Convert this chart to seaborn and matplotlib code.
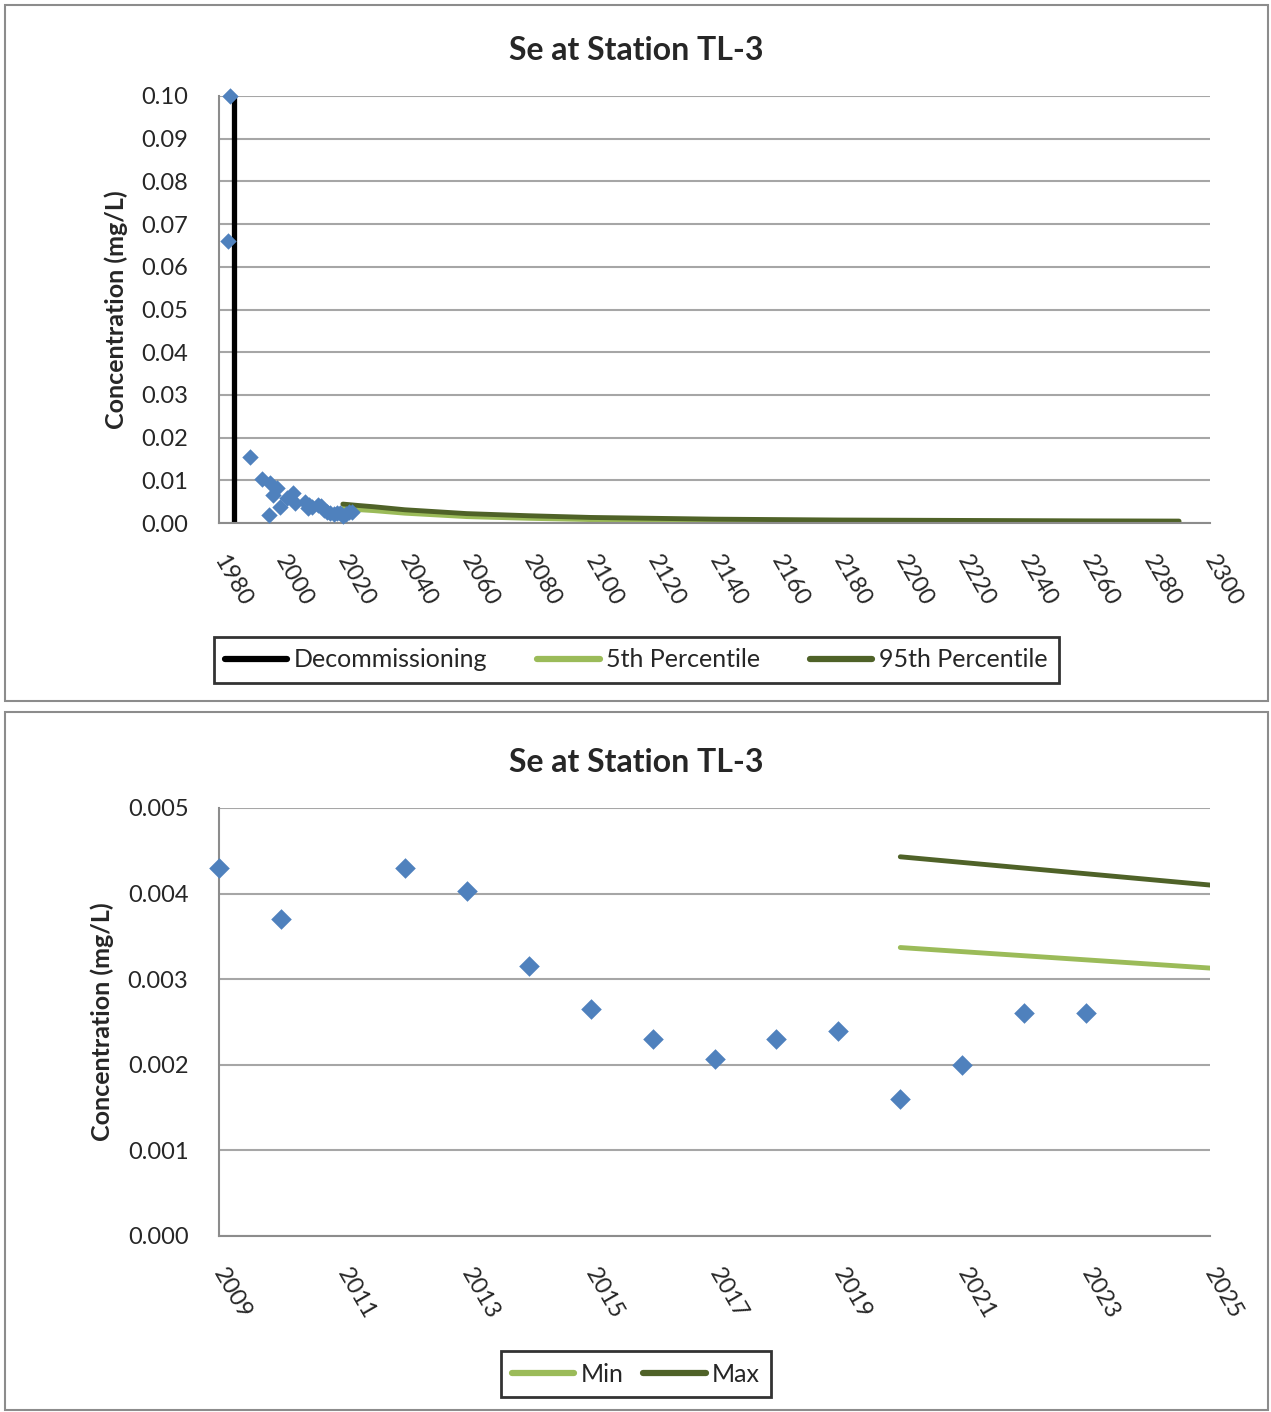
import numpy as np
import pandas as pd
import matplotlib
matplotlib.use("Agg")
import matplotlib.pyplot as plt
import matplotlib.patches as mpatches
import seaborn as sns

# =========================
# Daten
# =========================
hist_year = [1983.5, 1983.0, 1990.0, 1994.0, 1996.0, 1996.5, 1997.5, 1998.7,
             1999.7, 2002.0, 2004.0, 2004.5, 2007.8, 2008.7,
             2009, 2010, 2012, 2013, 2014, 2015, 2016, 2017, 2018, 2019,
             2020, 2021, 2022, 2023]
hist_se = [0.100, 0.066, 0.0155, 0.0103, 0.0019, 0.0094, 0.0066, 0.0082,
           0.0037, 0.0059, 0.0070, 0.0047, 0.0050, 0.0035,
           0.0043, 0.0037, 0.0043, 0.00403, 0.00315, 0.00265, 0.0023, 0.00207,
           0.0023, 0.0024, 0.0016, 0.0020, 0.0026, 0.0026]

proj_year = [2020, 2025, 2030, 2040, 2060, 2080, 2100, 2140, 2180, 2220, 2260, 2290]
p95 = [0.00443, 0.00410, 0.0038, 0.0031, 0.0022, 0.0017, 0.0013, 0.0009,
       0.0007, 0.0006, 0.0005, 0.00045]
p5 = [0.00337, 0.00313, 0.0029, 0.0023, 0.0015, 0.0011, 0.0008, 0.0006,
      0.0004, 0.0003, 0.00025, 0.0002]

decom_year = [1985, 1985]
decom_se = [0.0, 0.10]

title = "Se at Station TL-3"
ylabel = "Concentration (mg/L)"

# Farben
c_point = "#4F81BD"
c_low = "#9BBB59"
c_high = "#4F6228"
c_grid = "#A6A6A6"

sns.set_style("white")
plt.rcParams["font.family"] = ["Lato", "DejaVu Sans"]

df_hist = pd.DataFrame({"year": hist_year, "se": hist_se})
df_proj = pd.DataFrame({"year": proj_year, "p5": p5, "p95": p95})

W, H = 1271, 1412
fig = plt.figure(figsize=(W / 100, H / 100), dpi=100)


def fx(px):
    return px / W


def fy(py):
    return 1 - py / H


def style_axes(ax, title_y):
    for s in ["top", "right"]:
        ax.spines[s].set_visible(False)
    for s in ["left", "bottom"]:
        ax.spines[s].set_color("#8C8C8C")
        ax.spines[s].set_linewidth(1.5)
    ax.grid(axis="y", color=c_grid, lw=1.5)
    ax.grid(axis="x", visible=False)
    ax.set_axisbelow(True)
    ax.tick_params(axis="both", direction="out", length=8, width=1.5,
                   color="#8C8C8C", labelsize=17)
    ax.tick_params(axis="y", pad=14)
    ax.tick_params(axis="x", pad=16)
    for lab in ax.get_xticklabels():
        lab.set_rotation(-60)
        lab.set_ha("left")
        lab.set_va("center")
        lab.set_rotation_mode("anchor")
    ax.set_xlabel("")
    ax.set_ylabel(ylabel, fontsize=18, fontweight="bold", labelpad=10)
    fig.text(fx(636), fy(title_y), title, fontsize=23, fontweight="bold",
             ha="center", va="center")


def style_legend(leg):
    leg.get_frame().set_linewidth(2)
    for ln in leg.get_lines():
        ln.set_solid_capstyle("round")
        ln.set_linewidth(4.5)


# ---------- oberes Diagramm ----------
ax1 = fig.add_axes([fx(219), fy(523), fx(991), 427 / H])
sns.lineplot(x=decom_year, y=decom_se, estimator=None, sort=False,
             color="black", lw=3.8, ax=ax1, label="Decommissioning")
sns.lineplot(data=df_proj, x="year", y="p5", color=c_low, lw=3.5,
             ax=ax1, label="5th Percentile")
sns.lineplot(data=df_proj, x="year", y="p95", color=c_high, lw=3.5,
             ax=ax1, label="95th Percentile")
sns.scatterplot(data=df_hist, x="year", y="se", marker="D", s=70,
                color=c_point, edgecolor=c_point, linewidth=0, ax=ax1,
                zorder=5, legend=False, clip_on=False)
ax1.set_xlim(1980, 2300)
ax1.set_ylim(0, 0.10)
ax1.set_xticks(np.arange(1980, 2301, 20))
ax1.set_yticks(np.arange(0, 0.1001, 0.01))
ax1.yaxis.set_major_formatter(matplotlib.ticker.FormatStrFormatter("%.2f"))
style_axes(ax1, 50)
leg1 = ax1.legend(loc="center", bbox_to_anchor=(fx(636), fy(660)),
                  bbox_transform=fig.transFigure, ncol=3, frameon=True,
                  fancybox=False, edgecolor="black", fontsize=18,
                  handlelength=2.5, handletextpad=0.25, columnspacing=2.0,
                  borderpad=0.45)
style_legend(leg1)

# ---------- unteres Diagramm ----------
df_recent = df_hist[df_hist["year"] >= 2009]
ax2 = fig.add_axes([fx(219), fy(1236), fx(991), 428 / H])
sns.lineplot(data=df_proj, x="year", y="p5", color=c_low, lw=3.5,
             ax=ax2, label="Min")
sns.lineplot(data=df_proj, x="year", y="p95", color=c_high, lw=3.5,
             ax=ax2, label="Max")
sns.scatterplot(data=df_recent, x="year", y="se", marker="D", s=110,
                color=c_point, edgecolor=c_point, linewidth=0, ax=ax2,
                zorder=5, legend=False, clip_on=False)
ax2.set_xlim(2009, 2025)
ax2.set_ylim(0, 0.005)
ax2.set_xticks(np.arange(2009, 2026, 2))
ax2.set_yticks(np.arange(0, 0.00501, 0.001))
ax2.yaxis.set_major_formatter(matplotlib.ticker.FormatStrFormatter("%.3f"))
style_axes(ax2, 762)
leg2 = ax2.legend(loc="center", bbox_to_anchor=(fx(636), fy(1374)),
                  bbox_transform=fig.transFigure, ncol=2, frameon=True,
                  fancybox=False, edgecolor="black", fontsize=18,
                  handlelength=2.5, handletextpad=0.25, columnspacing=0.8,
                  borderpad=0.45)
style_legend(leg2)

# Rahmen um die beiden Diagramme
for (x0, y0, x1, y1) in [(5, 5, 1268, 701), (5, 712, 1268, 1410)]:
    fig.patches.append(mpatches.Rectangle((fx(x0), fy(y1)), fx(x1 - x0),
                                          (y1 - y0) / H, fill=False,
                                          edgecolor="#8C8C8C", lw=1.5,
                                          transform=fig.transFigure))

fig.savefig("out.png", dpi=100)
plt.close(fig)
